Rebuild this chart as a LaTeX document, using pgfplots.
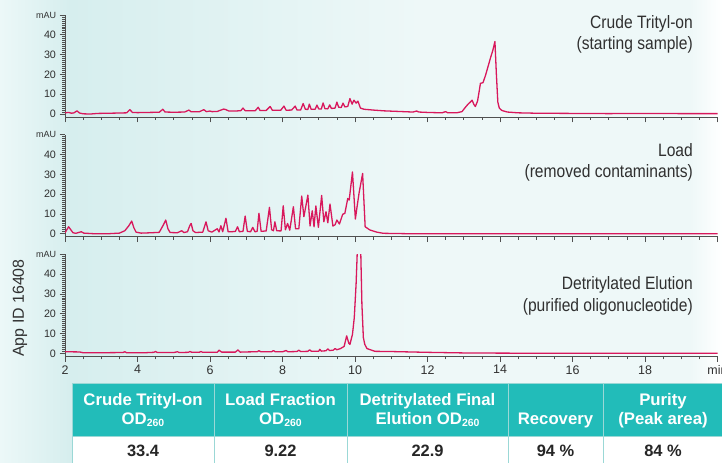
\documentclass[border=0pt]{standalone}
\usepackage{fontspec}
\setmainfont{Liberation Sans}
\newfontfamily\condfont{Liberation Sans}[FakeStretch=0.87]
\usepackage{pgfplots}
\pgfplotsset{compat=1.18}

\definecolor{trace}{RGB}{216,24,92}
\definecolor{axgray}{RGB}{80,80,80}
\definecolor{txtgray}{RGB}{48,48,48}
\definecolor{tealh}{RGB}{34,188,185}
\definecolor{bgA}{RGB}{236,248,248}
\definecolor{bgB}{RGB}{214,238,238}
\definecolor{bgC}{RGB}{238,248,248}
\definecolor{tline}{RGB}{155,216,214}

\newcommand\sub[1]{\raisebox{-2bp}{\fontsize{10.5}{10.5}\selectfont #1}}

\pgfplotsset{chrom/.style={
  scale only axis, width=652.5bp, height=102bp,
  xmin=2, xmax=20, ymin=-1.5, ymax=50,
  axis lines*=left,
  axis line style={-, axgray, line width=0.9bp},
  every outer x axis line/.append style={-},
  every outer y axis line/.append style={-},
  xtick={2,4,...,20}, minor x tick num=3,
  ytick={0,10,...,50}, minor y tick num=9,
  yticklabels={0,10,20,30,40,{\fontsize{9}{9}\selectfont mAU}},
  tick align=outside, tick pos=left,
  major tick length=5.5bp, minor tick length=3bp,
  every tick/.style={axgray, line width=0.7bp},
  yticklabel style={txtgray, font=\fontsize{10.8}{12}\selectfont},
  xticklabel style={txtgray, font=\fontsize{12.5}{14}\selectfont},
  /pgf/number format/assume math mode=true,
  clip=true,
}, trc/.style={trace, line width=1.3bp, line join=round, no markers}}

\begin{document}
\begin{tikzpicture}[x=1bp,y=1bp]
\useasboundingbox (0,0) rectangle (722,463);
% background
\shade[left color=bgA,right color=bgB] (0,0) rectangle (70.5,463);
\shade[left color=bgB,right color=bgC] (70,0) rectangle (420.5,463);
\fill[bgC] (420,0) rectangle (690.5,463);
\shade[left color=bgC,right color=white] (690,0) rectangle (722,463);

% Panel 1: Crude Trityl-on
\begin{axis}[chrom, at={(65bp,346bp)}, anchor=south west, xticklabels={}]
\addplot[trc] coordinates {
(2.00,0.6)(2.10,0.8)(2.18,0.4)(2.25,0.6)(2.33,1.6)(2.40,0.5)(2.50,0.1)(2.70,0.0)
(2.90,0.3)(3.20,0.4)(3.50,0.5)(3.70,0.6)(3.79,2.2)(3.86,0.8)(4.00,0.7)(4.30,0.8)
(4.60,0.9)(4.70,2.4)(4.76,1.0)(5.00,0.9)(5.30,1.0)(5.42,2.0)(5.48,1.1)(5.70,1.1)
(5.83,2.2)(5.90,1.2)(6.00,1.5)(6.06,1.2)(6.20,1.3)(6.38,2.5)(6.44,2.2)(6.52,1.5)
(6.70,1.5)(6.85,1.7)(6.91,3.0)(6.97,1.7)(7.10,1.6)(7.25,1.7)(7.33,3.4)(7.38,1.8)
(7.55,1.8)(7.66,3.8)(7.72,1.9)(7.95,1.9)(8.04,4.0)(8.10,1.9)(8.25,2.0)(8.35,4.0)
(8.40,2.0)(8.50,2.0)(8.57,5.3)(8.63,2.4)(8.70,2.3)(8.74,5.0)(8.79,2.4)(8.90,2.4)
(8.95,4.5)(9.00,2.6)(9.07,2.5)(9.12,5.6)(9.17,2.7)(9.25,2.6)(9.30,4.6)(9.35,2.8)
(9.45,3.0)(9.50,6.0)(9.55,3.4)(9.62,3.3)(9.67,5.5)(9.72,3.6)(9.80,3.8)(9.86,7.8)
(9.92,5.0)(9.97,7.0)(10.03,5.5)(10.08,6.5)(10.15,3.0)(10.25,2.4)(10.50,2.0)
(10.80,1.6)(11.20,1.3)(11.60,1.0)(11.70,1.5)(11.76,1.0)(12.00,0.8)(12.40,0.6)
(12.50,1.2)(12.56,0.6)(12.80,0.6)(12.95,1.2)(13.05,3.5)(13.12,5.0)(13.18,6.0)
(13.23,7.0)(13.28,4.8)(13.32,3.8)(13.38,6.5)(13.43,12.0)(13.46,15.5)(13.53,15.8)
(13.60,19.5)(13.67,24.0)(13.74,28.5)(13.80,32.0)(13.86,36.6)(13.90,20.0)(13.94,6.0)
(13.98,3.0)(14.05,1.8)(14.20,1.0)(14.50,0.6)(15.00,0.4)(16.00,0.3)(17.00,0.2)
(18.00,0.3)(19.00,0.2)(20.00,0.2)
};
\end{axis}

% Panel 2: Load
\begin{axis}[chrom, at={(65bp,226.3bp)}, anchor=south west, xticklabels={}]
\addplot[trc] coordinates {
(2.00,0.5)(2.05,2.0)(2.10,3.5)(2.16,2.0)(2.22,0.5)(2.30,0.2)(2.45,1.0)(2.52,0.3)
(2.80,0.0)(3.20,0.0)(3.50,0.3)(3.65,1.5)(3.76,4.0)(3.84,6.4)(3.90,3.0)(3.96,0.8)
(4.10,0.3)(4.40,0.5)(4.60,0.7)(4.70,4.0)(4.78,6.9)(4.84,2.5)(4.90,0.6)(5.10,0.5)
(5.22,1.5)(5.28,0.6)(5.38,1.0)(5.44,4.0)(5.48,5.2)(5.53,1.5)(5.60,0.6)(5.80,0.8)
(5.89,6.0)(5.95,1.5)(6.05,0.8)(6.20,2.5)(6.25,0.9)(6.30,4.0)(6.35,1.0)(6.44,7.8)
(6.50,1.0)(6.60,1.0)(6.70,1.2)(6.76,3.5)(6.81,1.0)(6.91,1.2)(6.97,8.9)(7.03,1.2)
(7.12,1.0)(7.18,3.2)(7.24,1.0)(7.30,1.2)(7.35,10.3)(7.41,1.2)(7.55,1.4)(7.64,13.3)
(7.70,2.0)(7.75,1.5)(7.79,6.0)(7.84,1.5)(7.96,1.4)(8.02,14.1)(8.08,2.0)(8.14,5.2)
(8.20,1.8)(8.30,13.6)(8.36,2.5)(8.45,2.5)(8.53,19.0)(8.59,8.6)(8.70,19.5)(8.76,3.9)
(8.82,11.6)(8.87,3.5)(8.92,14.0)(8.99,3.2)(9.08,19.3)(9.14,6.0)(9.20,11.1)
(9.25,5.5)(9.31,15.0)(9.39,3.9)(9.45,4.5)(9.50,6.9)(9.57,4.9)(9.66,9.8)(9.72,10.3)
(9.80,17.8)(9.84,17.0)(9.93,31.2)(10.01,7.4)(10.06,14.0)(10.11,20.3)(10.21,30.4)
(10.28,3.5)(10.41,1.9)(10.60,0.8)(10.78,0.2)(11.50,0.0)(13.00,0.0)(15.00,0.0)
(17.00,0.0)(20.00,0.0)
};
\end{axis}

% Panel 3: Detritylated Elution
\begin{axis}[chrom, at={(65bp,106.7bp)}, anchor=south west,
  xticklabels={2,4,6,8,10,12,14,16,18,min}]
\addplot[trc] coordinates {
(2.00,0.8)(2.40,0.7)(2.50,0.3)(3.00,0.3)(3.60,0.4)(3.65,0.8)(3.70,0.3)(4.20,0.3)
(4.45,0.5)(4.50,0.9)(4.55,0.4)(5.00,0.4)(5.10,0.8)(5.15,0.4)(5.40,0.5)(5.45,0.9)
(5.50,0.5)(5.70,0.5)(5.75,0.9)(5.80,0.5)(6.20,0.5)(6.25,1.6)(6.32,0.6)(6.70,0.6)
(6.77,1.7)(6.83,0.6)(7.00,0.7)(7.30,0.8)(7.35,1.3)(7.40,0.8)(7.70,0.8)(7.75,1.4)
(7.80,0.8)(8.00,0.8)(8.10,1.4)(8.15,0.8)(8.40,0.9)(8.45,1.6)(8.50,0.9)(8.70,1.0)
(8.75,1.8)(8.80,1.0)(9.00,1.1)(9.03,2.0)(9.07,1.1)(9.20,1.3)(9.25,2.2)(9.30,1.4)
(9.40,1.6)(9.45,2.4)(9.50,1.8)(9.60,2.4)(9.70,3.5)(9.77,8.8)(9.83,5.0)(9.86,4.5)
(9.93,9.6)(9.98,18.0)(10.03,35.0)(10.06,50.0)(10.08,65.0)(10.14,65.0)(10.16,50.0)
(10.19,25.0)(10.23,8.0)(10.27,4.5)(10.33,2.4)(10.55,1.0)(11.00,0.9)(12.00,0.5)
(13.00,0.2)(14.00,0.1)(16.00,0.0)(18.00,0.0)(20.00,0.0)
};
\end{axis}

% titles
\begin{scope}[every node/.style={anchor=base east, txtgray, font=\condfont\fontsize{18}{20}\selectfont, inner sep=0pt}]
\node at (693,434) {Crude Trityl-on};
\node at (693,413) {(starting sample)};
\node at (693,306) {Load};
\node at (693,285) {(removed contaminants)};
\node at (693,173) {Detritylated Elution};
\node at (693,151) {(purified oligonucleotide)};
\end{scope}

\node[rotate=90, txtgray, font=\fontsize{16}{18}\selectfont] at (20,155) {App ID 16408};

% table
\fill[tealh] (72,27) rectangle (722,80);
\fill[white] (72,0) rectangle (722,27);
\draw[tline, line width=0.9bp] (72,0) rectangle (722,80);
\draw[tline, line width=0.9bp] (72,27) -- (722,27);
\foreach \xx in {214,347,508,603} \draw[tline, line width=0.9bp] (\xx,0) -- (\xx,80);

\begin{scope}[every node/.style={anchor=base, white, font=\bfseries\fontsize{16.8}{18}\selectfont, inner sep=0pt}]
\node at (143,57) {Crude Trityl-on};
\node at (143,38) {OD\sub{260}};
\node at (280.5,57) {Load Fraction};
\node at (280.5,38) {OD\sub{260}};
\node at (427.5,57) {Detritylated Final};
\node at (427.5,38) {Elution OD\sub{260}};
\node at (555.5,38) {Recovery};
\node at (663,57) {Purity};
\node at (663,38) {(Peak area)};
\end{scope}
\begin{scope}[every node/.style={anchor=base, black!85, font=\bfseries\fontsize{16.5}{18}\selectfont, inner sep=0pt}]
\node at (143,6) {33.4};
\node at (280.5,6) {9.22};
\node at (427.5,6) {22.9};
\node at (555.5,6) {94 \%};
\node at (663,6) {84 \%};
\end{scope}
\end{tikzpicture}
\end{document}
